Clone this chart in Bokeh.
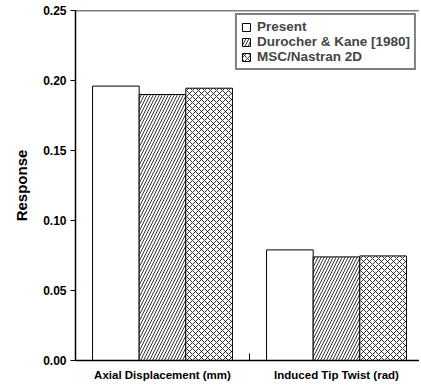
from bokeh.plotting import figure
from bokeh.models import ColumnDataSource, FixedTicker, Legend, LegendItem, Span, Range1d
from bokeh.embed import file_html
from bokeh.resources import INLINE

categories = ["Axial Displacement (mm)", "Induced Tip Twist (rad)"]
series = ["Present", "Durocher & Kane [1980]", "MSC/Nastran 2D"]
present = [0.196, 0.079]
durocher = [0.190, 0.074]
msc = [0.1945, 0.0747]
y_ticks = [0.00, 0.05, 0.10, 0.15, 0.20, 0.25]

FONT = "Liberation Sans"
centers = [i + 0.5 for i in range(len(categories))]
bw = 0.268
offsets = [-bw, 0.0, bw]
values = [present, durocher, msc]
hatches = [" ", "/", "x"]
spacings = [6, 6, 6]

p = figure(width=419, height=383, output_backend="svg", toolbar_location=None,
           x_range=Range1d(0, 1.977), y_range=Range1d(0, 0.25),
           min_border_left=75, min_border_right=0, min_border_top=10, min_border_bottom=14)
p.outline_line_color = None
p.grid.visible = False
p.background_fill_color = "white"

items = []
for s, vals, off, h, sp in zip(series, values, offsets, hatches, spacings):
    src = ColumnDataSource(dict(x=[c + off for c in centers], top=vals))
    r = p.vbar(x="x", top="top", width=bw, source=src, fill_color="white",
               line_color="black", line_width=1,
               hatch_pattern=h, hatch_color="black", hatch_scale=sp, hatch_weight=0.8)
    items.append(LegendItem(label=s, renderers=[r]))

# top frame line
p.add_layout(Span(location=0.25, dimension="width", line_color="black", line_width=1.5))
# separator tick between groups
p.segment(x0=[1.0], y0=[0.0], x1=[1.0], y1=[0.005], line_color="black", line_width=1)

legend = Legend(items=items, location="top_right")
legend.border_line_color = "black"
legend.border_line_width = 2
legend.label_text_font = FONT
legend.label_text_font_style = "bold"
legend.label_text_font_size = "13.5px"
legend.label_text_line_height = 0.9
legend.glyph_width = 10
legend.glyph_height = 10
legend.label_height = 10
legend.spacing = 0
legend.padding = 4
legend.margin = 3
legend.label_standoff = 6
p.add_layout(legend)

p.yaxis.ticker = FixedTicker(ticks=y_ticks)
p.yaxis.major_label_overrides = {t: f"{t:.2f}" for t in y_ticks}
p.yaxis.major_tick_out = 5
p.yaxis.major_tick_in = 0
p.yaxis.minor_tick_line_color = None
p.yaxis.axis_label = "Response"
p.yaxis.axis_label_text_font = FONT
p.yaxis.axis_label_text_font_style = "bold"
p.yaxis.axis_label_text_font_size = "15px"
p.yaxis.axis_label_standoff = 10
p.yaxis.major_label_text_font = FONT
p.yaxis.major_label_text_font_style = "bold"
p.yaxis.major_label_text_font_size = "12px"
p.yaxis.major_label_standoff = 4

p.xaxis.ticker = FixedTicker(ticks=centers)
p.xaxis.major_label_overrides = {c: cat for c, cat in zip(centers, categories)}
p.xaxis.major_tick_line_color = None
p.xaxis.minor_tick_line_color = None
p.xaxis.major_label_text_font = FONT
p.xaxis.major_label_text_font_style = "bold"
p.xaxis.major_label_text_font_size = "11.5px"
p.xaxis.major_label_standoff = 2

for ax in (p.xaxis[0], p.yaxis[0]):
    ax.axis_line_color = "black"
    ax.axis_line_width = 1.5
    ax.major_label_text_color = "black"
    ax.axis_label_text_color = "black"

open("out.html", "w").write(file_html(p, INLINE))
